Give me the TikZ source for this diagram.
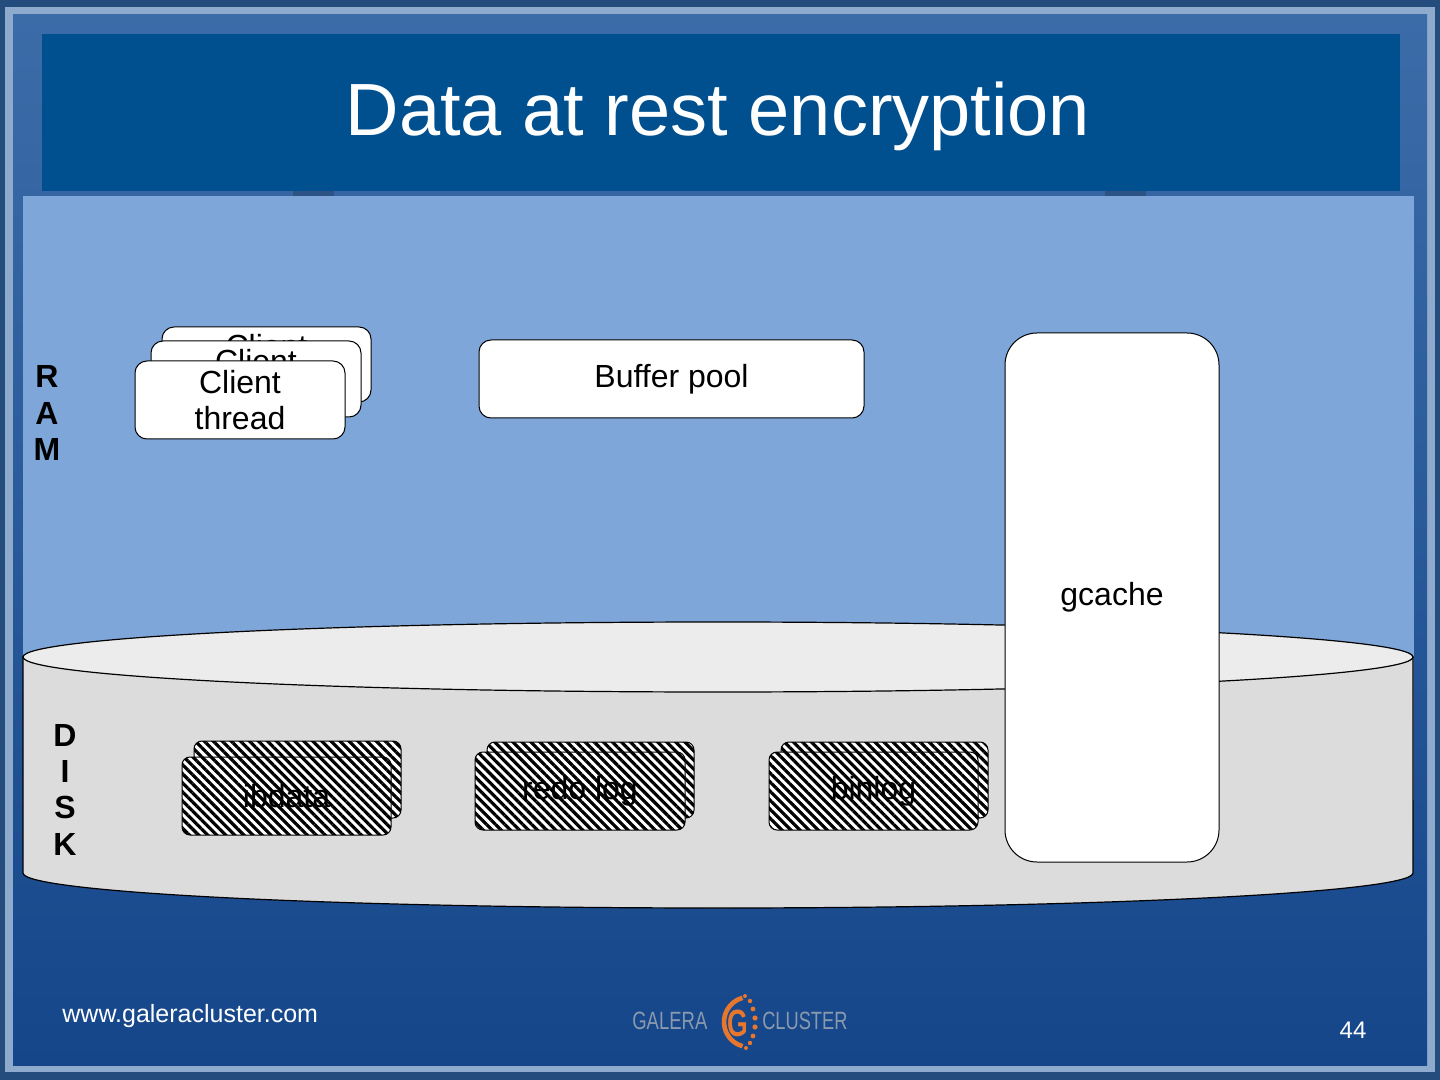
\documentclass[tikz,border=0pt]{standalone}
\usepackage{fontspec}
\setmainfont{Liberation Sans}
\usetikzlibrary{patterns.meta}
\definecolor{framedark}{HTML}{244C7C}
\definecolor{framelight}{HTML}{8EAACD}
\definecolor{bgtop}{HTML}{3C6CA8}
\definecolor{bgbot}{HTML}{15468A}
\definecolor{panelblue}{HTML}{7EA6D9}
\definecolor{titleblue}{HTML}{00508F}
\definecolor{tabblue}{HTML}{2C5384}
\definecolor{disktop}{HTML}{ECECEC}
\definecolor{diskside}{HTML}{DCDCDC}
\definecolor{logogray}{HTML}{8A99AD}
\definecolor{logoorange}{HTML}{E8772E}
\tikzset{
  rbox/.style={draw=black, line width=0.5pt, fill=white, rounded corners=6pt, inner sep=0pt,
    align=center, font=\fontsize{16}{18}\selectfont},
  hbox/.style={draw=black, line width=0.5pt, rounded corners=4pt, inner sep=0pt,
    preaction={fill=white},
    pattern={Lines[angle=-45,distance=3.2pt,line width=1.6pt]},
    font=\fontsize{16}{18}\selectfont},
  sidelabel/.style={font=\bfseries\fontsize{16}{18}\selectfont, anchor=base, inner sep=0pt},
  foot/.style={text=white, inner sep=0pt},
  logotext/.style={text=logogray, font=\fontsize{12.5}{14}\selectfont, anchor=base west, inner sep=0pt}
}
\begin{document}
\begin{tikzpicture}[x=0.5pt,y=-0.5pt]
\useasboundingbox (0,0) rectangle (1440,1080);
% frame and background
\fill[framedark] (0,0) rectangle (1440,1080);
\fill[framelight] (5,7) rectangle (1435,1072);
\shade[top color=bgtop, bottom color=bgbot] (13,15) rectangle (1427,1065);
\fill[titleblue] (42,34) rectangle (1400,191);
\fill[tabblue] (293,191) rectangle (334,196);
\fill[tabblue] (1105,191) rectangle (1146,196);
\fill[panelblue] (23,196) rectangle (1414,800);
% title
\node[text=white, font=\fontsize{37}{40}\selectfont, anchor=base, inner sep=0pt] (title) at (718,136) {Data at rest encryption};
% RAM label
\node[sidelabel] (ramR) at (47,388) {R};
\node[sidelabel] (ramA) at (47,424) {A};
\node[sidelabel] (ramM) at (47,460) {M};
% client threads
\node[rbox, minimum width=104.5pt, minimum height=37.5pt] (client3) at (266.5,364.5) {Client\\thread};
\node[rbox, minimum width=105pt, minimum height=38pt] (client2) at (256,379) {Client\\thread};
\node[rbox, minimum width=105pt, minimum height=39pt] (client1) at (240,400) {Client\\thread};
% buffer pool
\node[rbox, minimum width=192.5pt, minimum height=39pt] (buffer) at (671.5,379) {Buffer pool};
% disk cylinder
\filldraw[fill=diskside, draw=black, line width=0.6pt] (23,657) -- (23,873)
  arc[start angle=180, end angle=360, x radius=347.5pt, y radius=17.5pt] -- (1413,657) -- cycle;
\filldraw[fill=disktop, draw=black, line width=0.6pt] (718,657) ellipse[x radius=347.5pt, y radius=17.5pt];
% DISK label
\node[sidelabel] (diskD) at (65,746) {D};
\node[sidelabel] (diskI) at (65,782) {I};
\node[sidelabel] (diskS) at (65,818) {S};
\node[sidelabel] (diskK) at (65,855) {K};
% gcache
\node[rbox, rounded corners=16pt, minimum width=107pt, minimum height=264.5pt] (gcache) at (1112,597.5) {gcache};
% hatched files
\node[hbox, minimum width=103.5pt, minimum height=38.5pt] (ibdata2) at (297.5,779.5) {};
\node[hbox, minimum width=104.5pt, minimum height=39pt] (ibdata1) at (286.5,796) {ibdata};
\node[hbox, minimum width=103.5pt, minimum height=38pt] (redo2) at (590.5,780) {};
\node[hbox, minimum width=105pt, minimum height=39pt] (redo1) at (580,791) {redo log};
\node[hbox, minimum width=103.5pt, minimum height=38pt] (binlog2) at (884.5,780) {};
\node[hbox, minimum width=104.5pt, minimum height=39pt] (binlog1) at (873.5,791) {binlog};
% footer
\node[foot, font=\fontsize{12.5}{14}\selectfont, anchor=base west] (url) at (62,1022) {www.galeracluster.com};
\node[foot, font=\fontsize{12}{14}\selectfont, anchor=base] (page) at (1353,1038) {44};
% logo
\node[logotext, xscale=0.74] (galera) at (632,1029) {GALERA};
\node[logotext, xscale=0.73] (cluster) at (762,1029) {CLUSTER};
\draw[logoorange, line width=2.3pt] (749,1022) ++(105:12.5pt) arc[start angle=105, end angle=255, radius=12.5pt];
\node[text=logoorange, font=\bfseries\fontsize{19}{19}\selectfont, xscale=0.7, inner sep=0pt] (gletter) at (738,1023) {G};
\foreach \px/\py/\r in {745/996/1.0, 750/1001/1.1, 753/1009/1.2, 755/1018/1.3, 755/1027/1.3, 753/1036/1.2, 750/1043/1.1, 746/1048/1.0}
  \fill[logoorange] (\px,\py) circle[radius=\r pt];
\end{tikzpicture}
\end{document}
